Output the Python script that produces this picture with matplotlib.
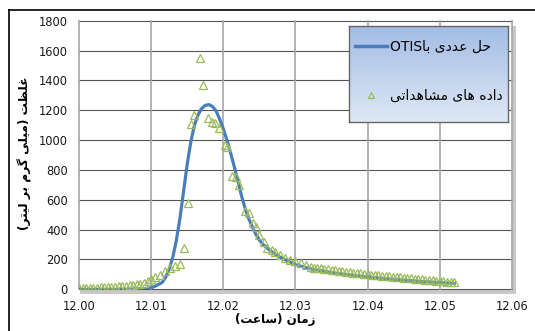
import matplotlib
matplotlib.use("Agg")
from matplotlib import pyplot as plt
from matplotlib.lines import Line2D
from matplotlib.patches import Rectangle
import numpy as np

# DATA
obs_t = [12.0000, 12.0005, 12.0010, 12.0015, 12.0020, 12.0025, 12.0030, 12.0035,
         12.0040, 12.0045, 12.0050, 12.0055, 12.0060, 12.0065, 12.0070, 12.0075,
         12.0080, 12.0085, 12.0090, 12.0095, 12.0100, 12.0105,
         12.0112, 12.0119, 12.0126, 12.0133, 12.0140, 12.0146, 12.0151, 12.0155,
         12.0159, 12.0167, 12.0172, 12.0179, 12.0184, 12.0188, 12.0194, 12.0202,
         12.0205, 12.0212, 12.0217, 12.0222, 12.0230, 12.0235, 12.0241, 12.0245,
         12.0250, 12.0256, 12.0261, 12.0268, 12.0272, 12.0279, 12.0286, 12.0293,
         12.0300, 12.0307, 12.0314, 12.0321,
         12.0325, 12.0330, 12.0335, 12.0340, 12.0345, 12.0350, 12.0355, 12.0360,
         12.0365, 12.0370, 12.0375, 12.0380, 12.0385, 12.0390, 12.0395, 12.0400,
         12.0405, 12.0410, 12.0415, 12.0420, 12.0425, 12.0430, 12.0435, 12.0440,
         12.0445, 12.0450, 12.0455, 12.0460, 12.0465, 12.0470, 12.0475, 12.0480,
         12.0485, 12.0490, 12.0495, 12.0500, 12.0505, 12.0510, 12.0515, 12.0520]
obs_c = [10, 10, 11, 11, 12, 12, 13, 14,
         15, 16, 17, 19, 21, 23, 26, 29,
         33, 38, 44, 58, 72, 85,
         94, 121, 141, 154, 168, 275, 580, 1108,
         1170, 1549, 1370, 1146, 1124, 1117, 1079, 968,
         951, 761, 754, 696, 526, 508, 445, 420,
         363, 318, 280, 262, 250, 228, 213, 199,
         190, 173, 161, 150,
         146, 143, 140, 137, 133, 130, 127, 124,
         121, 118, 115, 112, 110, 107, 104, 101,
         99, 96, 94, 91, 89, 87, 84, 82,
         80, 77, 75, 73, 71, 68, 66, 64,
         62, 60, 58, 56, 54, 52, 50, 48]

otis_t = [12.000, 12.004, 12.007, 12.009, 12.0100, 12.0105, 12.0110, 12.0115,
          12.0120, 12.0125, 12.0130, 12.0135, 12.0140, 12.0145, 12.0150, 12.0155,
          12.0160, 12.0165, 12.0170, 12.0175, 12.0180, 12.0185, 12.0190, 12.0195,
          12.0200, 12.0205, 12.0210, 12.0215, 12.0220, 12.0225, 12.0230, 12.0235,
          12.0240, 12.0245, 12.0250, 12.0255, 12.0260, 12.0270, 12.0280, 12.0290,
          12.0300, 12.0320, 12.0350, 12.0380, 12.0410, 12.0440, 12.0470, 12.0500,
          12.0520]
otis_c = [0, 0, 1, 4, 10, 20, 32, 45,
          80, 135, 215, 330, 480, 660, 840, 990,
          1100, 1170, 1212, 1233, 1238, 1225, 1195, 1140,
          1075, 1000, 915, 825, 730, 630, 545, 475,
          420, 370, 330, 300, 280, 240, 212, 188,
          165, 138, 112, 93, 78, 65, 54, 45,
          40]

xticks = [12.00, 12.01, 12.02, 12.03, 12.04, 12.05, 12.06]
yticks = [0, 200, 400, 600, 800, 1000, 1200, 1400, 1600, 1800]

# minimal persian shaping (matplotlib has no bidi / joining)
four = {'ب': 0xFE8F, 'ت': 0xFE95, 'ح': 0xFEA1, 'س': 0xFEB1, 'ش': 0xFEB5,
        'ظ': 0xFEC5, 'ع': 0xFEC9, 'غ': 0xFECD, 'ل': 0xFEDD, 'م': 0xFEE1,
        'ن': 0xFEE5, 'ه': 0xFEE9, 'ک': 0xFB8E, 'گ': 0xFB92, 'ی': 0xFBFC}
two = {'ا': 0xFE8D, 'د': 0xFEA9, 'ر': 0xFEAD, 'ز': 0xFEAF, 'و': 0xFEED}

def fa(s):
    out = []
    for i, ch in enumerate(s):
        if ch not in four and ch not in two:
            out.append(ch)
            continue
        prev = s[i-1] if i > 0 else ''
        nxt = s[i+1] if i + 1 < len(s) else ''
        jp = prev in four
        jn = ch in four and (nxt in four or nxt in two)
        base = four.get(ch, two.get(ch))
        if ch in two:
            out.append(chr(base + (1 if jp else 0)))
        elif jp and jn:
            out.append(chr(base + 3))
        elif jp:
            out.append(chr(base + 1))
        elif jn:
            out.append(chr(base + 2))
        else:
            out.append(chr(base))
    return ''.join(reversed(out)).translate(str.maketrans('()', ')('))

plt.rcParams['font.family'] = ['DejaVu Sans']

fig = plt.figure(figsize=(5.35, 3.31), dpi=100)
ax = fig.add_axes([79/535, 41.7/331, 433/535, 268.6/331])

# excel-like plot area shadow
fig.add_artist(Rectangle((80/535, 37/331), 436/535, 4.7/331, transform=fig.transFigure,
                         facecolor="#c8c8c8", edgecolor="none", zorder=0))
fig.add_artist(Rectangle((512/535, 37/331), 4/535, 268/331, transform=fig.transFigure,
                         facecolor="#c8c8c8", edgecolor="none", zorder=0))

ax.plot(otis_t, otis_c, color="#4a7ebb", linewidth=2.3, zorder=3)
ax.plot(obs_t, obs_c, linestyle="none", marker="^", markersize=6, markerfacecolor="none",
        markeredgecolor="#9bbb59", markeredgewidth=0.9, zorder=4)

ax.set_xlim(12.0, 12.06)
ax.set_ylim(0, 1800)
ax.set_xticks(xticks)
ax.set_xticklabels(["%.2f" % t for t in xticks])
ax.set_yticks(yticks)
for s in ax.spines.values():
    s.set_visible(False)
for y in yticks:
    ax.axhline(y, color="#555555", linewidth=0.8, zorder=1, clip_on=False)
for x in xticks:
    ax.axvline(x, color="#a6a6a6", linewidth=1.2, zorder=1, clip_on=False)
ax.tick_params(length=0, pad=8, labelsize=8.3, colors="#1a1a1a")

fig.text(275/535, 1 - 320/331, fa("زمان (ساعت)"), ha="center", va="center",
         fontsize=8.6, fontweight="bold")
fig.text(25/535, 1 - 153/331, fa("غلظت (میلی گرم بر لیتر)"), ha="center", va="center",
         rotation=90, fontsize=8.7, fontweight="bold")

# legend box with gradient
lax = fig.add_axes([349/535, 209/331, 159/535, 96/331])
grad = np.linspace(0, 1, 100).reshape(-1, 1)
top = np.array([0.64, 0.74, 0.90])
bot = np.array([0.87, 0.91, 0.96])
img = top + (bot - top) * grad[:, :, None]
lax.imshow(img, aspect="auto", extent=(0, 1, 0, 1))
lax.set_xlim(0, 1)
lax.set_ylim(0, 1)
lax.set_xticks([])
lax.set_yticks([])
for s in lax.spines.values():
    s.set_color("#666666")
    s.set_linewidth(1.0)
h1 = Line2D([], [], color="#4a7ebb", linewidth=2.5)
h2 = Line2D([], [], linestyle="none", marker="^", markersize=5, markerfacecolor="none",
            markeredgecolor="#9bbb59", markeredgewidth=0.9)
lax.legend([h1, h2], ["OTIS" + fa("حل عددی با"), fa("داده های مشاهداتی")],
           loc="upper left", bbox_to_anchor=(0.035, 0.86), frameon=False,
           fontsize=10, handlelength=2.3, handletextpad=0.25, labelspacing=2.55,
           borderpad=0, borderaxespad=0)

# outer chart frame
fig.add_artist(Line2D([9/535, 1], [1 - 10/331, 1 - 10/331], color="black", linewidth=1.2,
                      transform=fig.transFigure))
fig.add_artist(Line2D([9/535, 9/535], [0, 1 - 10/331], color="black", linewidth=1.2,
                      transform=fig.transFigure))

plt.savefig("out.png", dpi=100)
plt.close()
